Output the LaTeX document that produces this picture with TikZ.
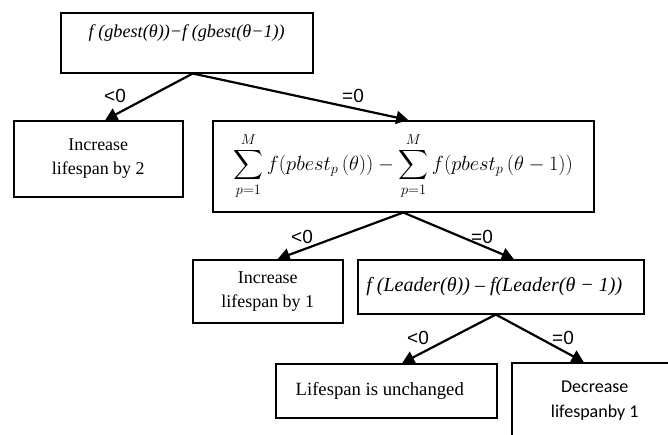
\RequirePackage{fix-cm}
\documentclass[tikz,border=0pt]{standalone}
\usepackage{exscale}
\usepackage{fontspec}
\setmainfont{Liberation Serif}
\newfontfamily\lblfont{Liberation Sans}
\newfontfamily\calfont{Carlito}
\usetikzlibrary{arrows.meta}
\tikzset{
    box/.style={
        draw,
        line width=1.5pt,
        align=center,
        inner sep=4pt,
        font=\fontsize{18}{24}\selectfont
    },
    arr/.style={
        draw,
        line width=2.2pt,
        -{Triangle[length=12pt,width=13pt]}
    },
    lbl/.style={
        inner sep=0pt,
        font=\lblfont\fontsize{19}{21}\selectfont
    }
}

\begin{document}
\begin{tikzpicture}[x=1pt,y=-1pt]
    \useasboundingbox (0,0) rectangle (668,434);

    \node[box, font=\fontsize{18.2}{22}\selectfont, anchor=north west, minimum width=252pt, text height=21pt, text depth=31pt] (gbest) at (60,12) {\itshape f (gbest(θ))−f (gbest(θ−1))};
    \node[box, anchor=north west, minimum width=169pt, minimum height=76pt] (incTwo) at (13,120) {Increase\\lifespan by 2};
    \node[box, font=\fontsize{20.5}{24}\selectfont, anchor=north west, minimum width=381pt, minimum height=91pt] (pbest) at (212,120) {$\displaystyle \sum_{p=1}^{M} f(pbest_p\,(\theta)) - \sum_{p=1}^{M} f(pbest_p\,(\theta-1))$};
    \node[box, anchor=north west, minimum width=150pt, minimum height=63pt] (incOne) at (192,259) {Increase\\lifespan by 1};
    \node[box, font=\fontsize{20}{24}\selectfont, anchor=north west, minimum width=286pt, minimum height=54pt] (leader) at (357,259) {\itshape f (Leader(θ)) – f(Leader(θ − 1))\hspace*{13pt}};
    \node[box, font=\fontsize{18.7}{24}\selectfont, anchor=north west, minimum width=221pt, minimum height=54pt] (same) at (275,363) {Lifespan is unchanged\hspace*{13pt}};
    \node[box, font=\calfont\fontsize{18}{25}\selectfont, anchor=north west, minimum width=166pt, minimum height=76pt] (dec) at (511,362) {Decrease\\lifespanby 1};

    \draw[arr] ([xshift=6]gbest.south) -- ([xshift=7]incTwo.north);
    \draw[arr] ([xshift=6]gbest.south) -- ([xshift=5]pbest.north);
    \draw[arr] (pbest.south) -- ([xshift=10]incOne.north);
    \draw[arr] (pbest.south) -- ([xshift=13]leader.north);
    \draw[arr] ([xshift=-5]leader.south) -- ([xshift=16]same.north);
    \draw[arr] ([xshift=-5]leader.south) -- ([xshift=-11]dec.north);

    \node[lbl] (ltA) at (115,96) {<0};
    \node[lbl] (eqA) at (353,96) {=0};
    \node[lbl] (ltB) at (302,237) {<0};
    \node[lbl] (eqB) at (482,237) {=0};
    \node[lbl] (ltC) at (418,338) {<0};
    \node[lbl] (eqC) at (563,338) {=0};
\end{tikzpicture}
\end{document}
